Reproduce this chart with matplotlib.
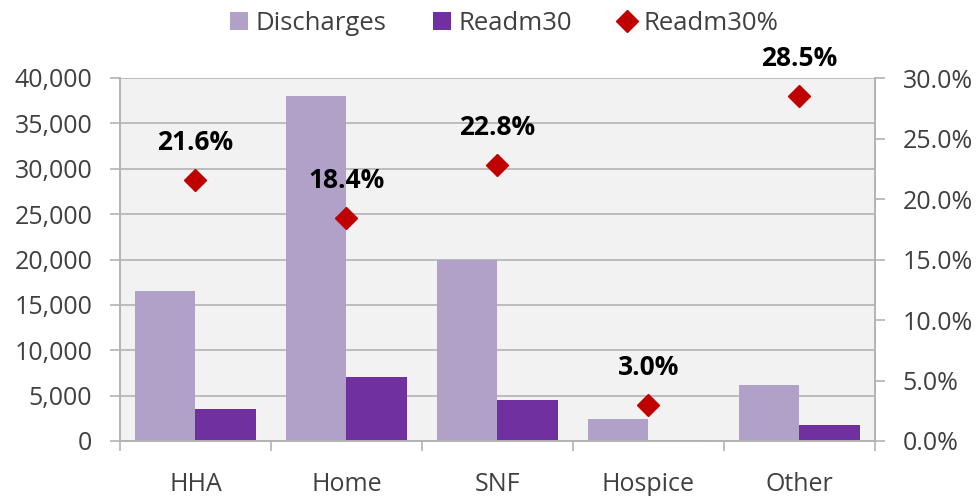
import matplotlib
matplotlib.use("Agg")
import matplotlib.pyplot as plt
import numpy as np
from matplotlib.ticker import FuncFormatter, FixedLocator

categories = ["HHA", "Home", "SNF", "Hospice", "Other"]
discharges = [16500, 38000, 20000, 2400, 6200]
readm30 = [3560, 7000, 4560, 72, 1770]
readm_pct = [21.6, 18.4, 22.8, 3.0, 28.5]

plt.rcParams['font.family'] = ['Open Sans', 'DejaVu Sans']

fig = plt.figure(figsize=(9.79, 4.96), dpi=100)
ax = fig.add_axes([120/979, 55/496, 755/979, 363/496])
ax2 = ax.twinx()

x = np.arange(len(categories))
w = 0.4
c_dis = "#b1a0c7"
c_read = "#7030a0"
c_pct = "#c00000"
tc = "#404040"
gc = "#b3b3b3"
fs = 18

ax.set_facecolor("#f2f2f2")
ax.set_axisbelow(True)
ax.yaxis.grid(True, color=gc, linewidth=1.2)
b1 = ax.bar(x - w/2, discharges, w, color=c_dis, label="Discharges", zorder=2)
b2 = ax.bar(x + w/2, readm30, w, color=c_read, label="Readm30", zorder=2)

ax.set_xlim(-0.5, len(categories) - 0.5)
ax.set_ylim(0, 40000)
ax.set_yticks(np.arange(0, 40001, 5000))
ax.yaxis.set_major_formatter(FuncFormatter(lambda v, p: f"{int(v):,}"))
ax.set_xticks(x)
ax.set_xticklabels(categories)
ax.xaxis.set_minor_locator(FixedLocator(np.arange(-0.5, len(categories), 1.0)))
ax.tick_params(axis='x', which='major', length=0, pad=22, labelsize=fs, labelcolor=tc)
ax.tick_params(axis='x', which='minor', length=7, width=1.2, color=gc)
ax.tick_params(axis='y', length=7, width=1.2, color=gc, labelsize=fs, labelcolor=tc, pad=13)

ax2.set_ylim(0, 30)
ax2.set_yticks(np.arange(0, 30.01, 5))
ax2.yaxis.set_major_formatter(FuncFormatter(lambda v, p: f"{v:.1f}%"))
ax2.tick_params(axis='y', length=7, width=1.2, color=gc, labelsize=fs, labelcolor=tc, pad=13)
l3, = ax2.plot(x, readm_pct, linestyle='none', marker='D', markersize=11,
               color=c_pct, label="Readm30%", zorder=3)
for xi, v in zip(x, readm_pct):
    ax2.annotate(f"{v:.1f}%", (xi, v), xytext=(0, 27), textcoords='offset points',
                 ha='center', va='center', fontsize=19, fontweight='bold', color='black')

for a in (ax, ax2):
    a.spines['top'].set_visible(False)
    for s in ['left', 'right', 'bottom']:
        a.spines[s].set_color(gc)
        a.spines[s].set_linewidth(1.2)

leg = fig.legend(handles=[b1, b2, l3], loc='upper center', bbox_to_anchor=(0.515, 1.025),
                 ncol=3, frameon=False, fontsize=18.5, handlelength=0.7, handletextpad=0.3,
                 columnspacing=1.8, labelcolor=tc)

fig.savefig("out.png", dpi=100)
